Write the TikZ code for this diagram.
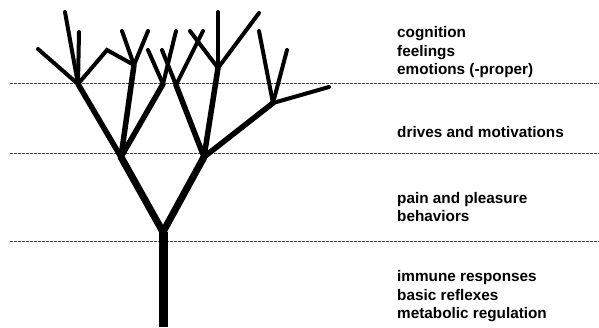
\documentclass[tikz,border=0pt]{standalone}
\usepackage{fontspec}
\setmainfont{Liberation Sans}
\usetikzlibrary{positioning}
\tikzset{
  trunk/.style = {line width=9pt, line cap=butt},
  limb/.style = {line width=7pt, line cap=round},
  bough/.style = {line width=5.5pt, line cap=round},
  twig/.style = {line width=4pt, line cap=round},
  level/.style = {draw=black!75, line width=0.6pt, dash pattern=on 3pt off 1pt},
  label/.style = {anchor=west, align=left, inner sep=0pt, font=\bfseries\fontsize{15.3}{18.5}\selectfont}
}

\begin{document}
\begin{tikzpicture}[x=1pt, y=-1pt]
\useasboundingbox (0,0) rectangle (599,327);

% Level lines
\coordinate (l1a) at (10,83);  \coordinate (l1b) at (599,83);
\coordinate (l2a) at (10,153); \coordinate (l2b) at (599,153);
\coordinate (l3a) at (10,241); \coordinate (l3b) at (599,241);
\draw[level] (l1a) -- (l1b);
\draw[level] (l2a) -- (l2b);
\draw[level] (l3a) -- (l3b);

% Tree points
\coordinate (base) at (163,327);
\coordinate (fork) at (163,232);
\coordinate (L) at (121,157);
\coordinate (R) at (204,157);
\coordinate (L1) at (78,84);
\coordinate (L2) at (134,65);
\coordinate (L3) at (163,84);
\coordinate (R1) at (176,85);
\coordinate (R2) at (218,68);
\coordinate (R3) at (273,103);
\coordinate (roof) at (107,50);

% Trunk and limbs
\draw[trunk] (base) -- (fork);
\draw[limb] (fork) -- (L);
\draw[limb] (fork) -- (R);
\draw[bough] (L) -- (L1);
\draw[bough] (L) -- (L2);
\draw[bough] (L) -- (L3);
\draw[bough] (R) -- (R1);
\draw[bough] (R) -- (R2);
\draw[bough] (R) -- (R3);

% Twigs
\foreach \tip in {(38,49), (65,12), (79,32)}
  \draw[twig] (L1) -- \tip;
\draw[twig] (L1) -- (roof) -- (L2);
\foreach \tip in {(122,31), (148,31)}
  \draw[twig] (L2) -- \tip;
\foreach \tip in {(148,50), (176,31)}
  \draw[twig] (L3) -- \tip;
\foreach \tip in {(162,50), (203,31)}
  \draw[twig] (R1) -- \tip;
\foreach \tip in {(218,12), (259,13), (190,31)}
  \draw[twig] (R2) -- \tip;
\foreach \tip in {(259,31), (287,50), (329,87)}
  \draw[twig] (R3) -- \tip;

% Labels
\node[label] (cog) at (397,52.5) {cognition\\feelings\\emotions (-proper)};
\node[label] (drives) at (397,132) {drives and motivations};
\node[label] (pain) at (397,207) {pain and pleasure\\behaviors};
\node[label] (immune) at (397,296.5) {immune responses\\basic reflexes\\metabolic regulation};

\end{tikzpicture}
\end{document}
